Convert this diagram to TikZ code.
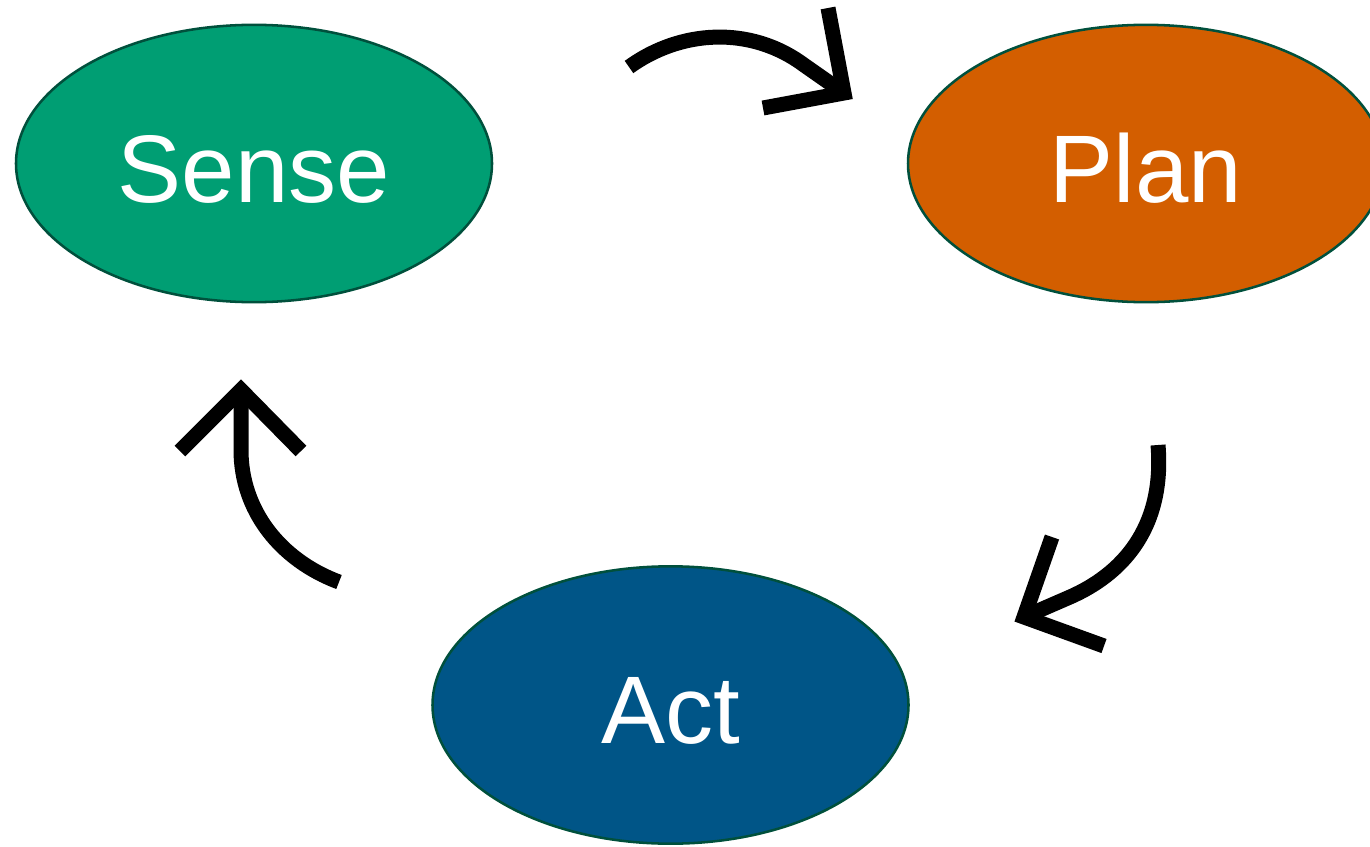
\documentclass[tikz,border=0pt]{standalone}
\usepackage{fontspec}
\setmainfont{Liberation Sans}
\usetikzlibrary{shapes.geometric}
\definecolor{senseg}{HTML}{009E73}
\definecolor{planor}{HTML}{D35E00}
\definecolor{actbl}{HTML}{005587}
\definecolor{rimgreen}{HTML}{00503C}
\tikzset{
  blob/.style={ellipse, draw=rimgreen, line width=1.9pt, inner sep=0pt,
    minimum width=357pt, minimum height=208pt, text=white,
    text height=58pt, text depth=0pt,
    font=\fontsize{72}{86}\selectfont},
  bigarrow/.style={line width=11.25pt, draw=black, line cap=butt, line join=miter},
}
\begin{document}
\begin{tikzpicture}[x=0.75pt, y=-0.75pt]
\useasboundingbox (0,0) rectangle (1370,846);
\node[blob, fill=senseg] (sense) at (254,163.5) {Sense};
\node[blob, fill=planor] (plan) at (1146,163.5) {Plan};
\node[blob, fill=actbl] (act) at (670.5,705) {Act};
% arrow Sense -> Plan
\coordinate (a1s) at (629,67);
\coordinate (a1k) at (804,65);
\coordinate (a1t) at (844,93);
\coordinate (a1u) at (828,8);
\coordinate (a1l) at (763,108);
\draw[bigarrow] (a1s) .. controls (680,30) and (750,25) .. (a1k) -- (a1t);
\draw[bigarrow] (a1u) -- (a1t) -- (a1l);
% arrow Plan -> Act
\coordinate (a2s) at (1158,445);
\coordinate (a2k) at (1070,597);
\coordinate (a2t) at (1024,617);
\coordinate (a2u) at (1052,537);
\coordinate (a2l) at (1104,646);
\draw[bigarrow] (a2s) .. controls (1165,530) and (1120,575) .. (a2k) -- (a2t);
\draw[bigarrow] (a2u) -- (a2t) -- (a2l);
% arrow Act -> Sense
\coordinate (a3s) at (339,582);
\coordinate (a3k) at (241,450);
\coordinate (a3t) at (241,390);
\coordinate (a3u) at (180,451);
\coordinate (a3l) at (301,451);
\draw[bigarrow] (a3s) .. controls (280,560) and (241,510) .. (a3k) -- (a3t);
\draw[bigarrow] (a3u) -- (a3t) -- (a3l);
\end{tikzpicture}
\end{document}
